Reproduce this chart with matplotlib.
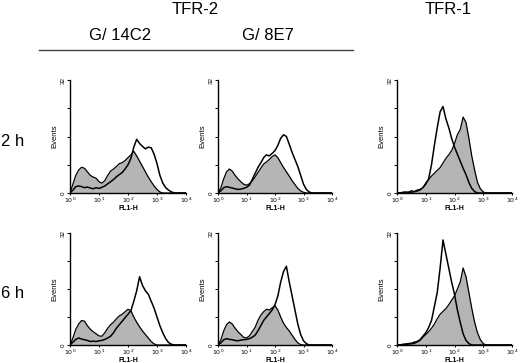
import numpy as np
import matplotlib
matplotlib.use("Agg")
import matplotlib.pyplot as plt
import matplotlib.ticker as mticker

plt.rcParams["font.family"] = ["Liberation Sans", "DejaVu Sans"]

# log10 fluorescence channel positions (decades 0..4)
decades = np.round(np.arange(0, 4.01, 0.1), 1)

# counts per panel: filled (gray) and open (black line) histograms
g14c2_2h_fill = [0, 2.5, 5, 6.5, 7.3, 7.0, 6.0, 5.0, 4.5, 4.2, 3.2, 2.8, 3.5, 5.0, 6.2, 6.8, 7.5, 8.3, 8.6, 9.2,
                 10.0, 10.8, 11.8, 10.5, 9.0, 7.5, 6.0, 4.5, 3.2, 2.0, 1.0, 0.3, 0, 0, 0, 0, 0, 0, 0, 0, 0]
g14c2_2h_open = [0, 0.8, 1.8, 2.0, 1.8, 1.5, 1.7, 1.4, 1.2, 1.5, 1.3, 1.6, 2.0, 2.6, 3.2, 3.8, 4.6, 5.2, 5.8, 6.8,
                 8.0, 9.8, 13.0, 15.2, 14.0, 13.2, 12.5, 13.0, 12.8, 11.0, 8.3, 5.0, 2.8, 1.5, 0.8, 0.3, 0, 0, 0, 0, 0]
g8e7_2h_fill = [0, 1.5, 4.0, 6.0, 6.8, 6.2, 5.0, 4.0, 3.2, 2.5, 2.2, 2.6, 3.4, 4.5, 5.8, 7.0, 8.2, 8.8, 9.5, 10.3,
                10.8, 10.0, 8.6, 7.2, 6.0, 4.8, 3.5, 2.4, 1.3, 0.6, 0.2, 0, 0, 0, 0, 0, 0, 0, 0, 0, 0]
g8e7_2h_open = [0, 0.6, 1.5, 1.8, 1.6, 1.4, 1.2, 1.0, 1.1, 1.3, 1.6, 2.2, 3.8, 5.5, 7.2, 8.5, 10.0, 10.8, 10.5, 11.2,
                12.0, 13.5, 15.5, 16.5, 16.0, 13.8, 11.5, 9.5, 7.5, 5.0, 2.5, 1.0, 0.3, 0, 0, 0, 0, 0, 0, 0, 0]
tfr1_2h_fill = [0, 0, 0, 0, 0.2, 0.2, 0.3, 0.5, 0.8, 1.5, 2.8, 3.8, 4.8, 5.6, 6.4, 7.2, 8.5, 9.8, 10.8, 12.0,
                14.0, 16.5, 18.0, 21.5, 20.0, 15.5, 10.5, 6.5, 3.0, 1.2, 0.3, 0, 0, 0, 0, 0, 0, 0, 0, 0, 0]
tfr1_2h_open = [0, 0, 0.2, 0.3, 0.2, 0.6, 0.4, 0.8, 1.0, 1.5, 2.5, 4.0, 8.0, 13.5, 18.5, 23.0, 24.5, 21.0, 18.5, 15.5,
                13.0, 11.0, 9.0, 7.0, 5.2, 3.0, 1.3, 0.4, 0, 0, 0, 0, 0, 0, 0, 0, 0, 0, 0, 0, 0]

g14c2_6h_fill = [0, 2.0, 4.5, 6.0, 7.0, 6.8, 5.5, 4.5, 3.8, 3.2, 2.6, 2.5, 3.5, 4.8, 5.8, 6.5, 7.5, 8.3, 8.8, 9.5,
                 10.2, 9.8, 8.0, 6.5, 5.2, 4.0, 3.0, 2.0, 1.0, 0.3, 0, 0, 0, 0, 0, 0, 0, 0, 0, 0, 0]
g14c2_6h_open = [0, 0.8, 1.6, 2.0, 1.7, 1.5, 1.3, 1.0, 1.1, 1.0, 1.2, 1.3, 1.6, 2.0, 2.5, 3.5, 4.8, 5.8, 6.8, 7.8,
                 8.8, 9.8, 12.5, 15.5, 19.5, 17.0, 15.5, 14.5, 12.5, 10.5, 8.0, 5.5, 3.5, 1.8, 0.7, 0.2, 0, 0, 0, 0, 0]
g8e7_6h_fill = [0, 1.5, 4.0, 5.8, 6.6, 6.0, 4.8, 3.8, 3.0, 2.2, 2.0, 2.6, 3.8, 5.0, 7.0, 8.5, 9.5, 10.2, 10.0, 10.6,
                11.2, 10.0, 8.0, 6.2, 5.0, 4.0, 2.8, 1.6, 0.6, 0.1, 0, 0, 0, 0, 0, 0, 0, 0, 0, 0, 0]
g8e7_6h_open = [0, 0.6, 1.5, 1.8, 1.6, 1.5, 1.3, 1.2, 1.4, 1.5, 1.6, 1.8, 2.2, 2.8, 4.0, 5.5, 7.0, 8.0, 9.0, 10.0,
                11.5, 14.0, 18.0, 21.0, 22.5, 18.0, 14.0, 10.0, 6.0, 3.0, 1.2, 0.4, 0, 0, 0, 0, 0, 0, 0, 0, 0]
tfr1_6h_fill = [0, 0, 0, 0.1, 0.2, 0.3, 0.4, 0.8, 1.3, 2.2, 3.0, 3.8, 4.8, 6.0, 7.5, 8.8, 9.6, 10.4, 11.5, 12.8,
                14.0, 16.0, 18.0, 22.0, 19.5, 15.0, 10.5, 6.5, 3.5, 1.5, 0.4, 0, 0, 0, 0, 0, 0, 0, 0, 0, 0]
tfr1_6h_open = [0, 0, 0.2, 0.3, 0.4, 0.5, 0.8, 1.0, 1.5, 2.5, 3.5, 5.0, 7.0, 11.0, 15.0, 22.0, 30.0, 26.0, 22.0, 18.0,
                14.5, 10.0, 6.5, 3.2, 1.3, 0.4, 0, 0, 0, 0, 0, 0, 0, 0, 0, 0, 0, 0, 0, 0, 0]

panels = [
    [(g14c2_2h_fill, g14c2_2h_open), (g8e7_2h_fill, g8e7_2h_open), (tfr1_2h_fill, tfr1_2h_open)],
    [(g14c2_6h_fill, g14c2_6h_open), (g8e7_6h_fill, g8e7_6h_open), (tfr1_6h_fill, tfr1_6h_open)],
]

W, H = 520, 363
fig = plt.figure(figsize=(W / 100, H / 100), dpi=100)

col_x = [(70, 186), (218, 332), (397, 512)]
row_y = [(80, 193), (233, 345)]

fl = 10 ** decades
for r, (yt, yb) in enumerate(row_y):
    for c, (xl, xr) in enumerate(col_x):
        ax = fig.add_axes([xl / W, 1 - yb / H, (xr - xl) / W, (yb - yt) / H])
        fill, opn = panels[r][c]
        ax.fill_between(fl, fill, 0, color="#b5b5b5", linewidth=0)
        ax.plot(fl, fill, color="black", linewidth=0.9)
        ax.plot(fl, opn, color="black", linewidth=1.1)
        ax.set_xscale("log")
        ax.set_xlim(1, 1e4)
        ax.set_ylim(0, 32)
        for s in ["top", "right"]:
            ax.spines[s].set_visible(False)
        for s in ["left", "bottom"]:
            ax.spines[s].set_linewidth(1.0)
        ax.set_yticks([0, 8, 16, 24, 32])
        ax.set_yticklabels(["0", "", "", "", "32"], rotation=90, va="center", fontsize=4.5)
        ax.set_xticks([1, 10, 100, 1000, 10000])
        ax.xaxis.set_major_formatter(mticker.FuncFormatter(lambda v, p: r"$10^{%d}$" % round(np.log10(v))))
        ax.xaxis.set_minor_locator(mticker.NullLocator())
        ax.tick_params(axis="x", labelsize=4.5, length=1.5, width=0.7, pad=0.5)
        ax.tick_params(axis="y", length=2, width=0.7, pad=1)
        ax.set_ylabel("Events", fontsize=5.5, labelpad=2)
        ax.set_xlabel("FL1-H", fontsize=5, fontweight="bold", labelpad=0)

# column and row headers
fig.text(195 / W, 1 - 10 / H, "TFR-2", ha="center", va="center", fontsize=12)
fig.text(448 / W, 1 - 10 / H, "TFR-1", ha="center", va="center", fontsize=12)
fig.text(120 / W, 1 - 36 / H, "G/ 14C2", ha="center", va="center", fontsize=12)
fig.text(268 / W, 1 - 36 / H, "G/ 8E7", ha="center", va="center", fontsize=12)
fig.add_artist(plt.Line2D([39 / W, 353 / W], [1 - 50 / H, 1 - 50 / H], color="#444444", linewidth=1))
fig.text(13 / W, 1 - 141 / H, "2 h", ha="center", va="center", fontsize=12)
fig.text(13 / W, 1 - 294 / H, "6 h", ha="center", va="center", fontsize=12)

fig.savefig("out.png", dpi=100)
